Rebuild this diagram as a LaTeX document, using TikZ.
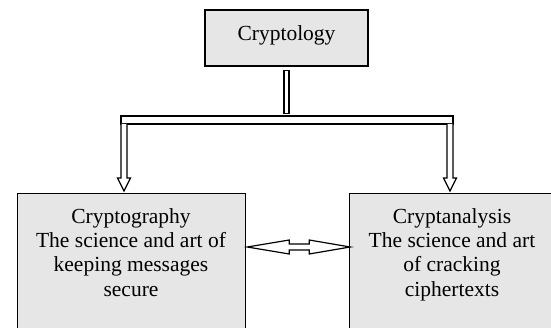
\documentclass[tikz,border=0pt]{standalone}
\usepackage{fontspec}
\setmainfont{Liberation Serif}
\usetikzlibrary{calc}
\definecolor{boxgray}{RGB}{230,230,230}
\begin{document}
\begin{tikzpicture}[x=1pt,y=-1pt,
  box/.style={draw=black, line width=1.2pt, fill=boxgray, inner sep=0pt},
  txt/.style={font=\fontsize{21.5}{24.2}\selectfont, align=center, inner sep=0pt},
  blockarrow/.style={draw=black, line width=1.2pt, fill=white, line join=miter}]
\useasboundingbox (0,0) rectangle (551,328);
\clip (0,0) rectangle (551,328);
% boxes
\node[box, txt, minimum width=163pt, minimum height=56pt, text height=14.7pt, text depth=9.7pt] (top) at (286.5,38) {Cryptology};
\node[box, minimum width=228pt, minimum height=160pt, anchor=north west] (crg) at (17,193) {};
\node[box, minimum width=215pt, minimum height=160pt, anchor=north west] (cra) at (349,193) {};
\node[txt, anchor=north] (crgt) at (131,208.3) {Cryptography\\The science and art of\\keeping messages\\secure};
\node[txt, anchor=north] (crat) at (452,208.3) {Cryptanalysis\\The science and art\\of cracking\\ciphertexts};
% stem from top box
\draw[blockarrow] ($(top.south)+(-2.5,4)$) rectangle ($(top.south)+(2.5,47)$);
% horizontal bar
\coordinate (barL) at (121,116);
\coordinate (barR) at (453,124);
\draw[blockarrow] (barL) rectangle (barR);
% down arrows
\coordinate (la) at (124,124);
\coordinate (ra) at (450,124);
\draw[blockarrow, shift={(la)}] (-3,0) -- (-3,54) -- (-6.5,54) -- (0,67) -- (6.5,54) -- (3,54) -- (3,0);
\draw[blockarrow, shift={(ra)}] (-3,0) -- (-3,54) -- (-6.5,54) -- (0,67) -- (6.5,54) -- (3,54) -- (3,0);
% double arrow between the boxes
\coordinate (dl) at ($(crg.east |- 0,247)$);
\draw[blockarrow, shift={(dl)}] (1,0) -- (43,-7) -- (43,-3) -- (63,-3) -- (63,-7) -- (104,0) -- (63,7) -- (63,3) -- (43,3) -- (43,7) -- cycle;
\end{tikzpicture}
\end{document}
